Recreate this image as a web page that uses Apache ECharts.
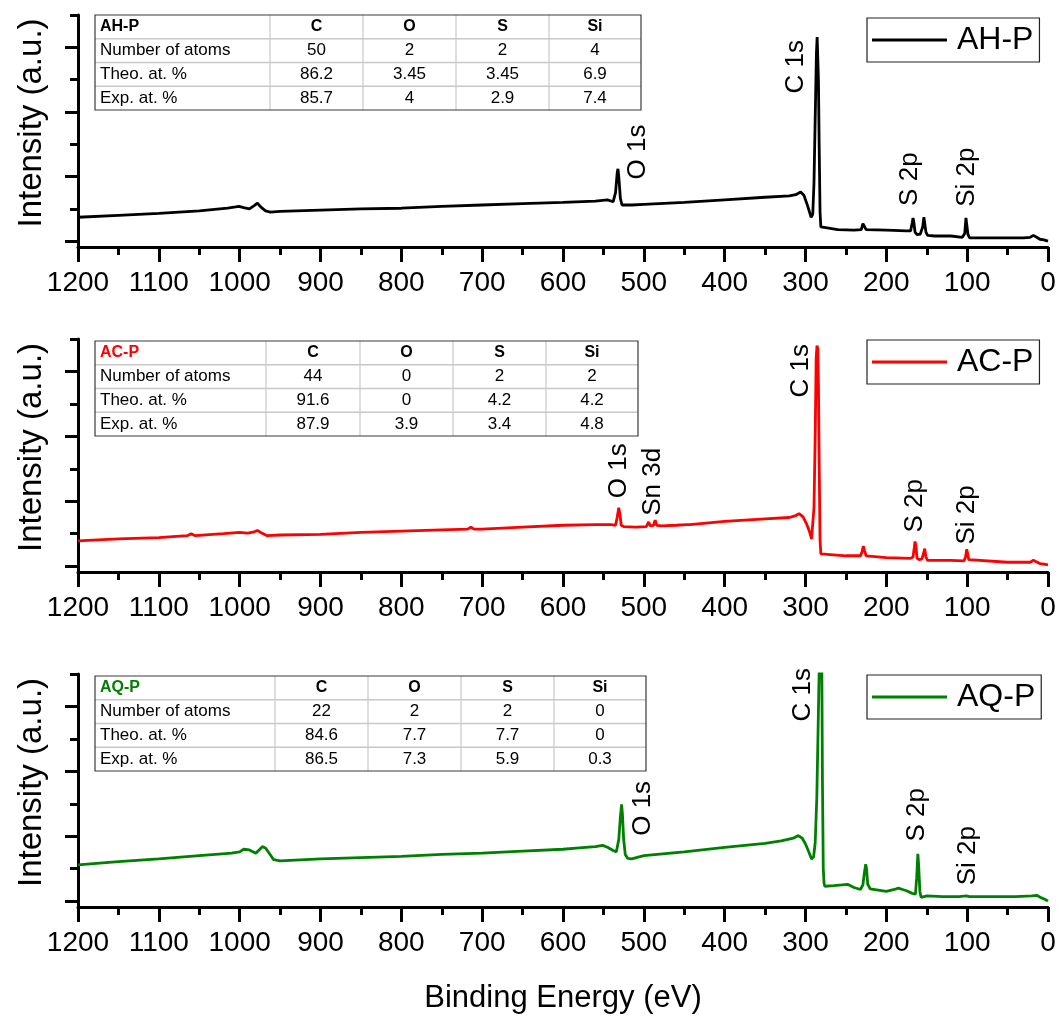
<!DOCTYPE html>
<html>
<head>
<meta charset="utf-8">
<script src="https://cdn.jsdelivr.net/npm/echarts@6/dist/echarts.min.js"></script>
<style>
  html, body { margin: 0; padding: 0; background: #ffffff; }
  #chart { width: 1060px; height: 1019px; }
</style>
</head>
<body>
<div id="chart"></div>
<script>
// XPS survey spectra of three polymer films: [binding energy (eV), intensity (a.u.)]
const sampleNames = ['AH-P', 'AC-P', 'AQ-P'];
const sampleColors = ['#000000', '#ff0000', '#008000'];

const ahpSpectrum = [
  [1200,0.37],[1150,0.40],[1100,0.43],[1050,0.47],[1015,0.51],[1005,0.53],[1001,0.54],[995,0.52],
  [988,0.50],[982,0.55],[978,0.59],[974,0.53],[968,0.47],[962,0.45],[950,0.46],[900,0.48],
  [850,0.50],[800,0.51],[750,0.54],[700,0.56],[650,0.58],[600,0.60],[560,0.62],[545,0.64],
  [538,0.61],[535,0.75],[533,1.05],[532,1.12],[531,1.00],[529,0.66],[527,0.56],[515,0.56],
  [500,0.57],[450,0.60],[400,0.64],[350,0.68],[320,0.70],[312,0.72],[306,0.76],[302,0.71],
  [298,0.57],[295,0.45],[293,0.37],[291,0.42],[289.5,0.9],[288,1.9],[286.5,2.9],[285.6,3.16],
  [284.8,3.16],[284,2.5],[283,1.4],[282,0.45],[281,0.22],[279,0.19],[260,0.18],[240,0.17],
  [231,0.18],[229,0.27],[228,0.29],[227,0.24],[225,0.18],[200,0.17],[175,0.16],[170,0.16],
  [168,0.28],[167,0.36],[166,0.30],[164.5,0.14],[162,0.10],[158,0.11],[155,0.22],[153.5,0.37],
  [152.5,0.34],[151,0.14],[149,0.09],[140,0.08],[120,0.08],[106,0.06],[103,0.12],[101.5,0.36],
  [100.5,0.33],[99,0.10],[97,0.05],[80,0.05],[50,0.05],[30,0.05],[22,0.06],[18,0.09],
  [14,0.06],[10,0.03],[5,0.02],[0,0.00]
];

const acpSpectrum = [
  [1200,0.39],[1150,0.42],[1100,0.44],[1065,0.47],[1060,0.50],[1055,0.47],[1020,0.50],[1000,0.52],
  [990,0.51],[982,0.53],[978,0.55],[974,0.52],[966,0.47],[950,0.48],[900,0.49],[850,0.52],
  [800,0.54],[750,0.56],[718,0.57],[714,0.60],[710,0.57],[700,0.57],[650,0.60],[600,0.63],
  [560,0.64],[540,0.64],[535,0.63],[533,0.75],[531,0.90],[529.5,0.80],[528,0.63],[525,0.61],
  [510,0.60],[497,0.61],[494,0.68],[492,0.62],[488,0.63],[486,0.71],[484,0.63],[478,0.62],
  [460,0.63],[447,0.64],[445,0.67],[443,0.64],[400,0.69],[350,0.73],[320,0.75],[312,0.78],
  [308,0.81],[303,0.76],[299,0.66],[295,0.53],[292.5,0.42],[291,0.45],[289.5,0.9],[288,2.0],
  [286.8,3.2],[285.8,3.40],[284.8,3.35],[284,2.8],[283,1.5],[282,0.40],[281,0.19],[279,0.17],
  [250,0.16],[232,0.16],[230,0.22],[228.5,0.31],[227,0.24],[225,0.16],[200,0.13],[170,0.12],
  [167,0.14],[165.5,0.28],[164.5,0.38],[163.5,0.32],[162,0.12],[159,0.10],[156,0.11],[153.5,0.22],
  [152.5,0.27],[151,0.14],[149,0.09],[120,0.09],[104,0.08],[102,0.14],[100.5,0.26],[99.5,0.23],
  [98,0.10],[96,0.07],[50,0.06],[22,0.06],[18,0.09],[15,0.07],[10,0.04],[5,0.03],[0,0.02]
];

const aqpSpectrum = [
  [1200,0.56],[1150,0.61],[1100,0.65],[1050,0.70],[1010,0.74],[1000,0.76],[995,0.80],[993,0.82],
  [988,0.79],[980,0.74],[975,0.80],[972,0.84],[968,0.82],[963,0.73],[958,0.64],[950,0.62],
  [900,0.65],[850,0.67],[800,0.69],[750,0.72],[700,0.74],[650,0.77],[600,0.80],[580,0.82],
  [560,0.84],[551,0.86],[545,0.83],[538,0.78],[534,0.76],[531,0.95],[529,1.30],[527.5,1.49],
  [526.5,1.35],[525,0.96],[523,0.72],[520,0.66],[515,0.65],[500,0.70],[450,0.76],[400,0.83],
  [350,0.89],[330,0.93],[315,0.97],[309,1.01],[304,0.97],[300,0.88],[296,0.76],[292.5,0.65],
  [290,0.68],[288,0.9],[286,1.6],[284.5,2.6],[283,3.6],[282,4.4],[281,4.6],[280,4.0],
  [279,1.8],[278,0.50],[277,0.27],[276,0.23],[265,0.24],[255,0.25],[248,0.26],[240,0.21],
  [232,0.18],[229,0.25],[227,0.45],[225.5,0.57],[224.5,0.50],[223,0.26],[220,0.19],[210,0.17],
  [200,0.15],[190,0.18],[185,0.20],[180,0.18],[175,0.16],[168,0.12],[164,0.11],[162.5,0.35],
  [161,0.73],[160,0.55],[158.5,0.15],[157,0.06],[150,0.08],[130,0.07],[110,0.07],[101,0.08],
  [99,0.10],[97,0.07],[70,0.07],[40,0.07],[20,0.08],[14,0.09],[8,0.05],[4,0.03],[0,0.00]
];

// Peak assignments: [label anchor energy (eV), label anchor intensity, text]
const ahpPeaks = [[312,2.70,'C 1s'],[507,1.38,'O 1s'],[171,0.96,'S 2p'],[101,0.99,'Si 2p']];
const acpPeaks = [[306,3.01,'C 1s'],[531,1.47,'O 1s'],[489,1.30,'Sn 3d'],[165,0.93,'S 2p'],[100,0.79,'Si 2p']];
const aqpPeaks = [[303,3.18,'C 1s'],[501,1.43,'O 1s'],[162,1.33,'S 2p'],[99,0.70,'Si 2p']];

// Composition tables
const elementHeaders = ['C', 'O', 'S', 'Si'];
const rowLabels = ['Number of atoms', 'Theo. at. %', 'Exp. at. %'];
const ahpComposition = [['50','2','2','4'], ['86.2','3.45','3.45','6.9'], ['85.7','4','2.9','7.4']];
const acpComposition = [['44','0','2','2'], ['91.6','0','4.2','4.2'], ['87.9','3.9','3.4','4.8']];
const aqpComposition = [['22','2','2','0'], ['84.6','7.7','7.7','0'], ['86.5','7.3','5.9','0.3']];

// Axis ranges and tick positions
const energyMin = 0, energyMax = 1200, energyStep = 100;
const intensityMin = -0.09, intensityMax = 3.5;
const majorIntensityTicks = [0, 1, 2, 3];
const minorIntensityTicks = [0.5, 1.5, 2.5, 3.5];

const spectra = [ahpSpectrum, acpSpectrum, aqpSpectrum];
const peaks = [ahpPeaks, acpPeaks, aqpPeaks];
const compositions = [ahpComposition, acpComposition, aqpComposition];

const FONT = '"Liberation Sans", Arial, Helvetica, sans-serif';

// Layout of the three stacked panels
const panels = [
  { top: 15,  height: 232, legendTop: 18,  tableTop: 15,  cols: [95, 270, 363, 456, 549, 641] },
  { top: 339, height: 233, legendTop: 340, tableTop: 341, cols: [95, 266, 360, 453, 546, 638] },
  { top: 674, height: 233, legendTop: 675, tableTop: 676, cols: [95, 275, 368, 461, 554, 646] }
];
const gridLeft = 78, gridRight = 12;
const rowH = 23.75;
const nPanels = panels.length;

const grids = [], xAxes = [], yAxes = [], series = [], legends = [], graphics = [];

// main plotting grids (0..2)
panels.forEach((p, i) => {
  grids.push({ left: gridLeft, right: gridRight, top: p.top, height: p.height, containLabel: false });

  xAxes.push({
    gridIndex: i, type: 'value', inverse: true,
    min: energyMin, max: energyMax, interval: energyStep,
    name: i === 2 ? 'Binding Energy (eV)' : '',
    nameLocation: 'middle', nameGap: 76,
    nameTextStyle: { fontFamily: FONT, fontSize: 31, color: '#000' },
    axisLine: { show: true, onZero: false, lineStyle: { color: '#000', width: 3 } },
    axisTick: { show: true, inside: false, length: 15, lineStyle: { color: '#000', width: 3 } },
    minorTick: { show: true, splitNumber: 2, length: 8, lineStyle: { color: '#000', width: 3 } },
    axisLabel: { show: true, interval: 0, margin: 22, fontFamily: FONT, fontSize: 28, color: '#000',
                 showMinLabel: true, showMaxLabel: true, formatter: v => String(v) },
    splitLine: { show: false }, minorSplitLine: { show: false }
  });

  // major ticks, axis line and title
  yAxes.push({
    gridIndex: i, type: 'value', position: 'left',
    min: intensityMin, max: intensityMax,
    name: 'Intensity (a.u.)', nameLocation: 'middle', nameGap: 30,
    nameTextStyle: { fontFamily: FONT, fontSize: 33, color: '#000', padding: [0, 0, 0, 16] },
    axisLine: { show: true, onZero: false, lineStyle: { color: '#000', width: 3 } },
    axisTick: { show: true, inside: false, length: 13, customValues: majorIntensityTicks,
                lineStyle: { color: '#000', width: 3 } },
    axisLabel: { show: false },
    splitLine: { show: false }
  });
});

// overlay grids (3..5) carrying only the short minor ticks of the intensity axis
panels.forEach((p, i) => {
  grids.push({ left: gridLeft, right: gridRight, top: p.top, height: p.height, containLabel: false });
  xAxes.push({ gridIndex: nPanels + i, type: 'value', min: energyMin, max: energyMax, show: false });
  yAxes.push({
    gridIndex: nPanels + i, type: 'value', position: 'left',
    min: intensityMin, max: intensityMax,
    axisLine: { show: false },
    axisTick: { show: true, inside: false, length: 8, customValues: minorIntensityTicks,
                lineStyle: { color: '#000', width: 3 } },
    axisLabel: { show: false },
    splitLine: { show: false }
  });
});

panels.forEach((p, i) => {
  series.push({
    name: sampleNames[i], type: 'line',
    xAxisIndex: i, yAxisIndex: i,
    data: spectra[i], symbol: 'none', smooth: false, clip: true,
    lineStyle: { color: sampleColors[i], width: 2.8 },
    itemStyle: { color: sampleColors[i] },
    z: 3
  });

  series.push({
    name: sampleNames[i] + ' peaks', type: 'scatter',
    xAxisIndex: i, yAxisIndex: i,
    data: peaks[i].map(d => ({ value: [d[0], d[1]], name: d[2] })),
    symbolSize: 1, itemStyle: { color: 'rgba(0,0,0,0)', opacity: 1 },
    silent: true, clip: false,
    label: {
      show: true, position: 'inside', rotate: 90,
      formatter: params => params.name,
      fontFamily: FONT, fontSize: 26, color: '#000000', opacity: 1,
      textBorderWidth: 0
    },
    z: 4
  });

  legends.push({
    data: [sampleNames[i]],
    left: 867, top: p.legendTop,
    orient: 'horizontal',
    padding: [6, 6, 6, 5],
    icon: 'rect',
    itemWidth: 75, itemHeight: 3,
    borderColor: '#222', borderWidth: 1.2,
    backgroundColor: '#fff',
    textStyle: { fontFamily: FONT, fontSize: 32, color: '#000', padding: [0, 0, 0, 5] },
    selectedMode: false
  });

  // composition table
  const c = p.cols;
  const t0 = p.tableTop;
  const tableH = rowH * 4;
  for (let r = 1; r < 4; r++) {
    graphics.push({ type: 'line', shape: { x1: c[0], y1: t0 + r * rowH, x2: c[5], y2: t0 + r * rowH },
                    style: { stroke: '#c8c8c8', lineWidth: 1.6 }, z: 10 });
  }
  for (let k = 1; k < 5; k++) {
    graphics.push({ type: 'line', shape: { x1: c[k], y1: t0, x2: c[k], y2: t0 + tableH },
                    style: { stroke: '#c8c8c8', lineWidth: 1.2 }, z: 10 });
  }
  graphics.push({ type: 'rect', shape: { x: c[0], y: t0, width: c[5] - c[0], height: tableH },
                  style: { fill: null, stroke: '#3a3a3a', lineWidth: 1.2 }, z: 11 });
  graphics.push({ type: 'text', x: c[0] + 5, y: t0 + rowH / 2,
                  style: { text: sampleNames[i], fill: sampleColors[i], font: 'bold 16px ' + FONT,
                           textAlign: 'left', textVerticalAlign: 'middle' }, z: 12 });
  elementHeaders.forEach((h, k) => {
    graphics.push({ type: 'text', x: (c[k + 1] + c[k + 2]) / 2, y: t0 + rowH / 2,
                    style: { text: h, fill: '#000', font: 'bold 16px ' + FONT,
                             textAlign: 'center', textVerticalAlign: 'middle' }, z: 12 });
  });
  rowLabels.forEach((lab, r) => {
    const yc = t0 + (r + 1.5) * rowH;
    graphics.push({ type: 'text', x: c[0] + 5, y: yc,
                    style: { text: lab, fill: '#000', font: '17px ' + FONT,
                             textAlign: 'left', textVerticalAlign: 'middle' }, z: 12 });
    compositions[i][r].forEach((v, k) => {
      graphics.push({ type: 'text', x: (c[k + 1] + c[k + 2]) / 2, y: yc,
                      style: { text: v, fill: '#000', font: '17px ' + FONT,
                               textAlign: 'center', textVerticalAlign: 'middle' }, z: 12 });
    });
  });
});

const chart = echarts.init(document.getElementById('chart'), null, { renderer: 'canvas' });
chart.setOption({
  backgroundColor: '#ffffff',
  animation: false,
  textStyle: { fontFamily: FONT },
  grid: grids,
  xAxis: xAxes,
  yAxis: yAxes,
  legend: legends,
  series: series,
  graphic: graphics
});
</script>
</body>
</html>
